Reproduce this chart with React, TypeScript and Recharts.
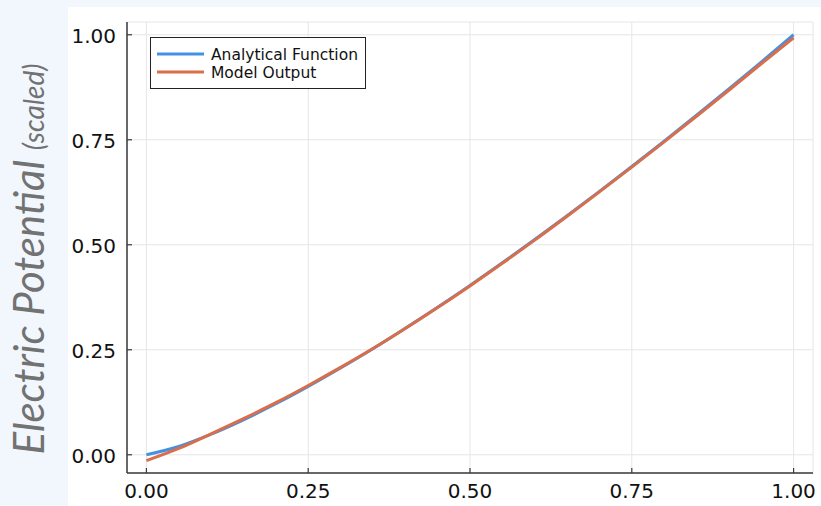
import { LineChart, Line, XAxis, YAxis, CartesianGrid, Legend } from 'recharts';

const xValues = [0, 0.05, 0.1, 0.15, 0.2, 0.25, 0.3, 0.35, 0.4, 0.45, 0.5, 0.55, 0.6, 0.65, 0.7, 0.75, 0.8, 0.85, 0.9, 0.95, 1.0];
const analytical = [0, 0.0197, 0.049, 0.0833, 0.1214, 0.1628, 0.2067, 0.2526, 0.3013, 0.3513, 0.4033, 0.4571, 0.5125, 0.5692, 0.6272, 0.6863, 0.7465, 0.8083, 0.871, 0.935, 1.0];
const modelOutput = [-0.014, 0.015, 0.05, 0.086, 0.124, 0.165, 0.208, 0.253, 0.3005, 0.3505, 0.402, 0.456, 0.511, 0.568, 0.626, 0.685, 0.745, 0.806, 0.868, 0.931, 0.993];
const tickValues = [0, 0.25, 0.5, 0.75, 1.0];

const data = xValues.map((x, i) => ({ x, analytical: analytical[i], model: modelOutput[i] }));

const FONT = '"DejaVu Sans", sans-serif';
const AXIS = '#3a3a3a';

const XTick = ({ x, y, payload }: any) => (
  <g>
    <line x1={x} x2={x} y1={y} y2={y - 5} stroke={AXIS} strokeWidth={1.2} />
    <text x={x} y={y + 25} textAnchor="middle" fontFamily={FONT} fontSize={20} fill="#111">
      {payload.value.toFixed(2)}
    </text>
  </g>
);

const YTick = ({ x, y, payload }: any) => (
  <g>
    <line x1={x} x2={x + 5} y1={y} y2={y} stroke={AXIS} strokeWidth={1.2} />
    <text x={x - 11} y={y + 8.5} textAnchor="end" fontFamily={FONT} fontSize={20} fill="#111">
      {payload.value.toFixed(2)}
    </text>
  </g>
);

const renderLegend = ({ payload }: any) => (
  <div style={{ width: 216, height: 52, border: '1px solid #222', background: '#fff', boxSizing: 'border-box' }}>
    <svg width={214} height={50}>
      {(payload || []).map((p: any, i: number) => (
        <g key={p.value}>
          <line x1={6} x2={53} y1={16 + i * 18} y2={16 + i * 18} stroke={p.color} strokeWidth={3} />
          <text x={60} y={21.5 + i * 18} fontFamily={FONT} fontSize={15.5} fill="#111">
            {p.value}
          </text>
        </g>
      ))}
    </svg>
  </div>
);

const YLabel = () => (
  <text
    transform="translate(44, 259) rotate(-90)"
    textAnchor="middle"
    fontFamily="Lato, sans-serif"
    fontStyle="italic"
    fill="#727272"
  >
    <tspan fontSize={42}>Electric Potential </tspan>
    <tspan fontSize={28}>(scaled)</tspan>
  </text>
);

export default function App() {
  return (
    <div style={{ position: 'absolute', left: 0, top: 0, width: 821, height: 506, background: '#f1f7fd', overflow: 'hidden' }}>
      <div style={{ position: 'absolute', left: 68, top: 7, width: 753, height: 499, background: '#fff' }} />
      <div style={{ position: 'absolute', left: 0, top: 0 }}>
        <LineChart width={821} height={506} data={data} margin={{ top: 22, right: 8, bottom: 0, left: 0 }}>
          <CartesianGrid stroke="#e6e6e6" strokeWidth={1} />
          <XAxis
            dataKey="x"
            type="number"
            domain={[-0.03, 1.03]}
            ticks={tickValues}
            allowDataOverflow
            height={33}
            tickSize={0}
            tickMargin={0}
            tickLine={false}
            tick={<XTick />}
            axisLine={{ stroke: AXIS, strokeWidth: 1.5 }}
          />
          <YAxis
            type="number"
            domain={[-0.0434, 1.0304]}
            ticks={tickValues}
            allowDataOverflow
            width={127}
            tickSize={0}
            tickMargin={0}
            tickLine={false}
            tick={<YTick />}
            axisLine={{ stroke: AXIS, strokeWidth: 1.5 }}
            label={{ content: <YLabel /> }}
          />
          <Legend
            content={renderLegend}
            layout="horizontal"
            verticalAlign="middle"
            align="center"
            wrapperStyle={{ left: 150, top: 37, width: 216, height: 52 }}
          />
          <Line type="monotone" dataKey="analytical" name="Analytical Function" stroke="#4391e2" strokeWidth={3} dot={false} isAnimationActive={false} />
          <Line type="monotone" dataKey="model" name="Model Output" stroke="#d96e4a" strokeWidth={3} dot={false} isAnimationActive={false} />
        </LineChart>
      </div>
    </div>
  );
}
